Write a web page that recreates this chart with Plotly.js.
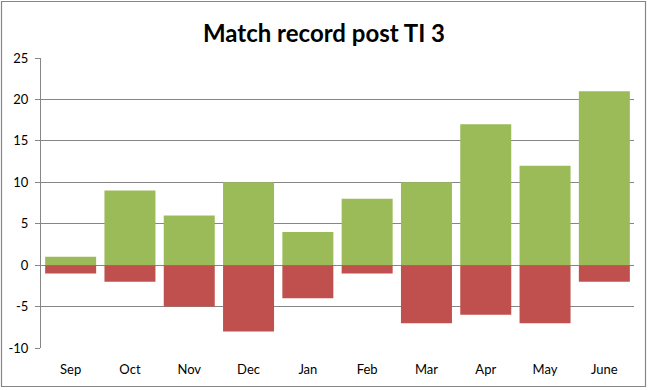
<!DOCTYPE html>
<html><head><meta charset="utf-8">
<script src="https://cdn.plot.ly/plotly-3.0.1.min.js"></script>
<style>html,body{margin:0;padding:0;background:#fff;}</style>
</head><body>
<div id="chart" style="width:648px;height:390px;"></div>
<script>
var months = ["Sep","Oct","Nov","Dec","Jan","Feb","Mar","Apr","May","June"];
var wins = [1, 9, 6, 10, 4, 8, 10, 17, 12, 21];
var losses = [-1, -2, -5, -8, -4, -1, -7, -6, -7, -2];
var yTicks = [-10, -5, 0, 5, 10, 15, 20, 25];

var traces = [
  {type:"bar", x:months, y:wins, marker:{color:"#9BBB59"}, name:"Won", hoverinfo:"x+y"},
  {type:"bar", x:months, y:losses, marker:{color:"#C0504D"}, name:"Lost", hoverinfo:"x+y"}
];
var layout = {
  width:648, height:390,
  margin:{l:41, r:14, t:58, b:42},
  paper_bgcolor:"#fff", plot_bgcolor:"#fff",
  barmode:"relative", bargap:0.14,
  showlegend:false,
  font:{family:"Lato, 'Open Sans', sans-serif", size:13, color:"#000"},
  title:{text:"Match record post TI 3", font:{family:"Lato, 'Open Sans', sans-serif", size:24, color:"#000", weight:"bold"}, x:0.5, xanchor:"center", y:0.915, yanchor:"middle"},
  xaxis:{type:"category", showgrid:false, showline:false, ticks:"", tickfont:{size:13}, ticklabelstandoff:12, fixedrange:true},
  yaxis:{range:[-10,25], tickvals:yTicks, ticktext:yTicks.map(String), showgrid:true, gridcolor:"#868686", gridwidth:1,
         zeroline:true, zerolinecolor:"#868686", zerolinewidth:1,
         showline:true, linecolor:"#868686", linewidth:1, ticks:"outside", ticklen:5, tickcolor:"#868686",
         tickfont:{size:13}, ticklabelstandoff:4, fixedrange:true},
  shapes:[{type:"rect", xref:"paper", yref:"paper", x0:-0.0666, x1:1.0194, y0:-0.1328, y1:1.1948,
           line:{color:"#868686", width:1.2}, fillcolor:"rgba(0,0,0,0)", layer:"below"}]
};
Plotly.newPlot("chart", traces, layout, {displayModeBar:false, staticPlot:true});
</script>
</body></html>
